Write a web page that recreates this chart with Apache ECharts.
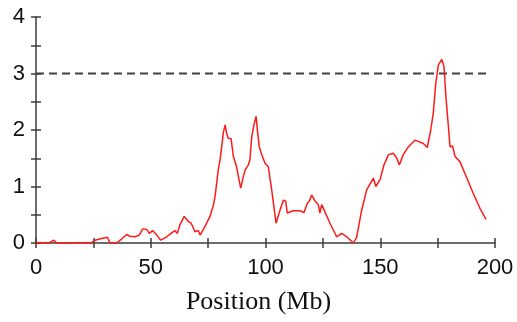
<!DOCTYPE html>
<html>
<head>
<meta charset="utf-8">
<script src="https://cdn.jsdelivr.net/npm/echarts@6/dist/echarts.min.js"></script>
<style>
  html, body { margin: 0; padding: 0; background: #fff; }
  #myChart { width: 517px; height: 322px; }
</style>
</head>
<body>
<div id="myChart"></div>
<script>
// position along the chromosome (Mb)
var positions = [0, 1, 2, 3, 4, 5, 6, 7.8, 8.9, 12, 16.5, 18, 20, 22, 24, 25.7, 28.6, 31.1, 32.2, 33.6,
    35, 37.3, 39.5, 40.9, 43.1, 45, 46.5, 48.2, 49.4, 50.8, 52.6, 54.3, 57, 59.1, 60.5, 61.6, 62.7, 64.6,
    66.4, 67.6, 69.3, 70.7, 71.5, 73.6, 75.8, 77.3, 78, 78.7, 79.4, 80.2, 80.9, 81.6, 82.4, 83, 83.8, 85,
    86, 87.4, 88.3, 89.2, 90.3, 91.1, 92.5, 93.2, 94, 95, 95.9, 96.6, 97.3, 98.5, 99.8, 101.2, 102.7,
    104.6, 106.3, 107.8, 108.8, 109.5, 112.1, 115, 116.8, 118.2, 119.2, 120.1, 121.6, 123, 123.7, 124.5,
    125.9, 128.1, 131, 133.2, 135.4, 138.3, 139.7, 141.9, 144.1, 147, 148.1, 149.9, 151.6, 153.5, 155.7,
    157.2, 158.3, 160, 162.2, 165.1, 168.8, 170.5, 172, 173.1, 174.2, 175.3, 176.8, 177.8, 178.6, 179.7,
    180.4, 181.5, 182.6, 184.7, 186.9, 190.5, 193.5, 196.1];
// LOD score
var lodScores = [0.02, 0, 0.01, 0, 0.01, 0, 0.01, 0.05, 0, 0, 0, 0.01, 0, 0.01, 0, 0.05, 0.08, 0.1, 0.01, 0,
    0, 0.07, 0.15, 0.12, 0.11, 0.14, 0.25, 0.24, 0.17, 0.22, 0.14, 0.05, 0.11, 0.18, 0.22, 0.17, 0.32, 0.47,
    0.38, 0.35, 0.2, 0.22, 0.14, 0.29, 0.47, 0.67, 0.82, 1.05, 1.29, 1.47, 1.7, 1.95, 2.09, 1.95, 1.85, 1.85,
    1.53, 1.35, 1.15, 0.97, 1.17, 1.29, 1.38, 1.47, 1.88, 2.1, 2.24, 1.95, 1.7, 1.55, 1.41, 1.35, 0.94,
    0.35, 0.58, 0.76, 0.74, 0.53, 0.57, 0.57, 0.54, 0.7, 0.75, 0.85, 0.74, 0.68, 0.53, 0.68,
    0.55, 0.35, 0.11, 0.17, 0.11, 0, 0.1, 0.58, 0.94, 1.15, 1.0, 1.12, 1.38, 1.56, 1.59,
    1.5, 1.38, 1.56, 1.7, 1.82, 1.76, 1.69, 2.0, 2.3, 2.83, 3.15, 3.25, 3.12, 2.59, 2.06,
    1.7, 1.72, 1.53, 1.44, 1.23, 0.88, 0.61, 0.42];
// significance threshold
var thresholdX = [0, 196.5];
var thresholdLod = 3;
var xTicks = [0, 50, 100, 150, 200];
var yTicks = [0, 1, 2, 3, 4];

initChart();

function initChart() {
    var myChart = echarts.init(document.getElementById('myChart'));
    var axisColor = '#3c3c3c';
    var lineData = positions.map(function (p, i) { return [p, lodScores[i]]; });
    var threshData = thresholdX.map(function (p) { return [p, thresholdLod]; });

    var tickStyle = { color: axisColor, width: 1.5 };
    var labelStyle = { color: '#111', fontSize: 22, fontFamily: 'Liberation Sans' };

    var option = {
        animation: false,
        grid: { left: 36, right: 22, top: 17, bottom: 79 },
        xAxis: [
            {
                type: 'value', min: xTicks[0], max: xTicks[xTicks.length - 1], interval: 50,
                position: 'bottom',
                axisLine: { lineStyle: { color: axisColor, width: 1.5 } },
                axisTick: { length: 5, lineStyle: tickStyle },
                minorTick: { show: true, splitNumber: 2, length: 5, lineStyle: tickStyle },
                splitLine: { show: false },
                axisLabel: Object.assign({ margin: 14 }, labelStyle),
                name: 'Position (Mb)',
                nameLocation: 'middle',
                nameGap: 46,
                nameTextStyle: { color: '#111', fontSize: 26, fontFamily: 'Liberation Serif', padding: [0, 14, 0, 0] }
            },
            {
                // inner half of the crossing ticks
                type: 'value', min: xTicks[0], max: xTicks[xTicks.length - 1], interval: 50,
                position: 'bottom',
                axisLine: { show: false },
                axisTick: { inside: true, length: 5, lineStyle: tickStyle },
                minorTick: { show: true, splitNumber: 2, length: 5, lineStyle: tickStyle },
                splitLine: { show: false },
                axisLabel: { show: false }
            }
        ],
        yAxis: [
            {
                type: 'value', min: yTicks[0], max: yTicks[yTicks.length - 1], interval: 1,
                position: 'left',
                axisLine: { show: true, lineStyle: { color: axisColor, width: 1.5 } },
                axisTick: { show: true, length: 5, lineStyle: tickStyle },
                minorTick: { show: true, splitNumber: 2, length: 5, lineStyle: tickStyle },
                splitLine: { show: false },
                axisLabel: Object.assign({ margin: 11 }, labelStyle)
            },
            {
                type: 'value', min: yTicks[0], max: yTicks[yTicks.length - 1], interval: 1,
                position: 'left',
                axisLine: { show: false },
                axisTick: { show: true, inside: true, length: 5, lineStyle: tickStyle },
                minorTick: { show: true, splitNumber: 2, length: 5, lineStyle: tickStyle },
                splitLine: { show: false },
                axisLabel: { show: false }
            }
        ],
        series: [
            {
                name: 'threshold',
                type: 'line',
                xAxisIndex: 0, yAxisIndex: 0,
                data: threshData,
                symbol: 'none',
                lineStyle: { color: '#404040', width: 2, type: [8, 5] },
                z: 1
            },
            {
                name: 'LOD',
                type: 'line',
                xAxisIndex: 0, yAxisIndex: 0,
                data: lineData,
                symbol: 'none',
                clip: false,
                lineStyle: { color: '#ff1a1a', width: 1.5 },
                z: 2
            }
        ]
    };
    myChart.setOption(option);
}
</script>
</body>
</html>
